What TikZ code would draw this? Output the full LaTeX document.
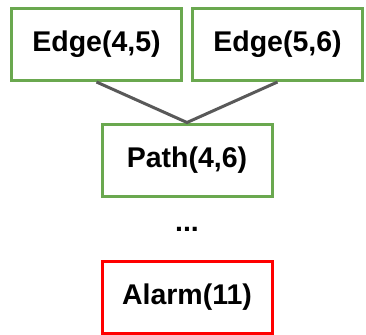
\documentclass[tikz,border=0pt]{standalone}
\usepackage{fontspec}
\setmainfont{Liberation Sans}
\definecolor{boxgreen}{HTML}{6AA84F}
\definecolor{boxred}{HTML}{FF0000}
\definecolor{linkgray}{HTML}{595959}
\begin{document}
\begin{tikzpicture}[x=1pt,y=-1pt,
  fact/.style={draw=boxgreen, line width=3pt, fill=white, minimum width=170pt, minimum height=72pt, inner sep=0pt, font=\fontsize{28.5}{32}\selectfont\bfseries},
  alarmbox/.style={fact, draw=boxred},
  link/.style={draw=linkgray, line width=3pt}]
\useasboundingbox (0,0) rectangle (366,334);
\node[fact] (e45) at (96.5,44.5) {Edge(4,5)};
\node[fact] (e56) at (277.5,44.5) {Edge(5,6)};
\node[fact] (p46) at (187,160) {Path(4,6)};
\node[font=\fontsize{28.5}{32}\selectfont\bfseries] (dots) at (187,229) {...};
\node[alarmbox] (al) at (187,297) {Alarm(11)};
\draw[link] (e45.south) -- (p46.north) -- (e56.south);
\end{tikzpicture}
\end{document}
